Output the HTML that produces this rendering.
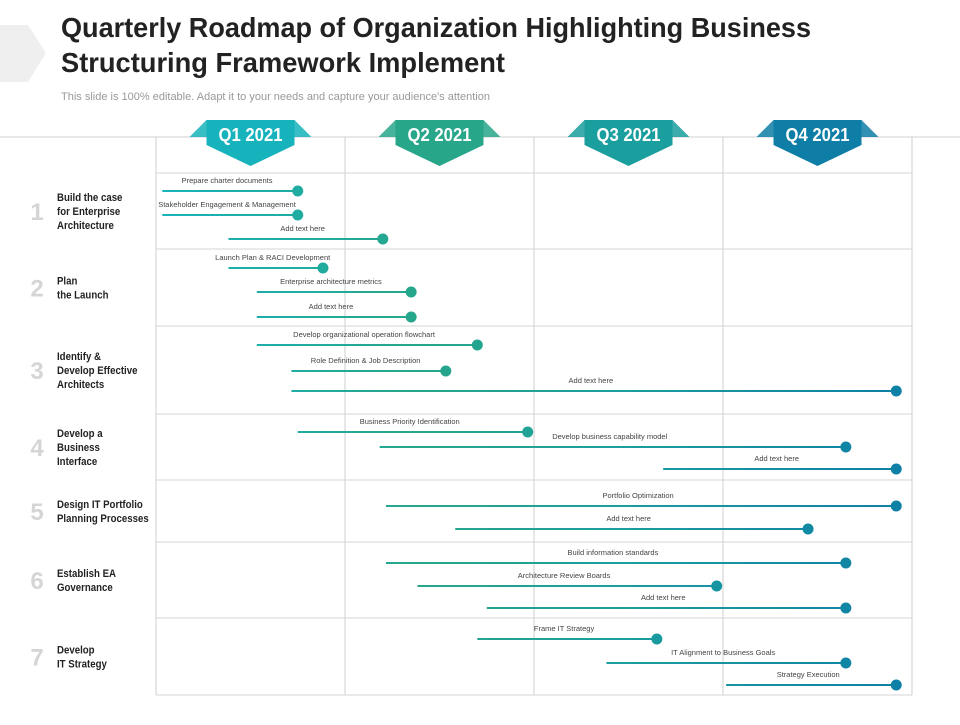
<!DOCTYPE html>
<html><head><meta charset="utf-8"><style>
body{margin:0;background:#fff;}
svg text{font-family:"Liberation Sans",sans-serif;}
</style></head><body>
<svg id="c" width="960" height="720" viewBox="0 0 960 720" xmlns="http://www.w3.org/2000/svg">
<defs>
<linearGradient id="g" gradientUnits="userSpaceOnUse" x1="156" y1="0" x2="912" y2="0">
<stop offset="0" stop-color="#17b3bc"/><stop offset="0.35" stop-color="#27a68a"/><stop offset="0.62" stop-color="#1a9e9e"/><stop offset="1" stop-color="#0e7ea6"/>
</linearGradient>
</defs>
<polygon points="0,25 28,25 46,53 28,82 0,82" fill="#efefef"/>
<text x="61" y="37" font-size="28" font-weight="bold" fill="#222" textLength="750" lengthAdjust="spacingAndGlyphs">Quarterly Roadmap of Organization Highlighting Business</text>
<text x="61" y="72" font-size="28" font-weight="bold" fill="#222" textLength="444" lengthAdjust="spacingAndGlyphs">Structuring Framework Implement</text>
<text x="61" y="100" font-size="11" fill="#999">This slide is 100% editable. Adapt it to your needs and capture your audience's attention</text>
<g id="grid"></g><g id="hdr"></g><g id="rows"></g><g id="tasks"></g>
</svg>
<script>
const quarters=["Q1 2021","Q2 2021","Q3 2021","Q4 2021"];
const quarterColors=["#17b3bc","#27a68a","#1a9e9e","#0e7ea6"];
const rowNums=["1","2","3","4","5","6","7"];
const rowLabels=[["Build the case","for Enterprise","Architecture"],["Plan","the Launch"],["Identify &","Develop Effective","Architects"],["Develop a","Business","Interface"],["Design IT Portfolio","Planning Processes"],["Establish EA","Governance"],["Develop","IT Strategy"]];
const rowBounds=[173,249,326,414,480,542,618,695];
const taskNames=["Prepare charter documents","Stakeholder  Engagement  & Management","Add text here","Launch  Plan & RACI Development","Enterprise architecture metrics","Add text here","Develop organizational  operation  flowchart","Role Definition & Job Description","Add text here","Business Priority Identification","Develop business capability model","Add text here","Portfolio Optimization","Add text here","Build information standards","Architecture Review Boards","Add text here","Frame IT Strategy","IT Alignment to Business Goals","Strategy  Execution"];
const taskStart=[0.1,0.1,1.15,1.15,1.6,1.6,1.6,2.15,2.15,2.25,3.55,8.05,3.65,4.75,3.65,4.15,5.25,5.1,7.15,9.05];
const taskEnd=[2.25,2.25,3.6,2.65,4.05,4.05,5.1,4.6,11.75,5.9,10.95,11.75,11.75,10.35,10.95,8.9,10.95,7.95,10.95,11.75];
const taskRowY=[191,215,239,268,292,317,345,371,391,432,447,469,506,529,563,586,608,639,663,685];
const NS="http://www.w3.org/2000/svg";
const X0=156,QW=189;
const xs=m=>X0+m*QW/3;
function mk(p,tag,at,txt){const e=document.createElementNS(NS,tag);for(const k in at)e.setAttribute(k,at[k]);if(txt!=null)e.textContent=txt;p.appendChild(e);return e;}
const grid=document.getElementById('grid');
let l=mk(grid,'line',{x1:0,y1:137,x2:960,y2:137,stroke:'#d0d0d0'});

for(let i=0;i<=4;i++){const v=mk(grid,'line',{x1:X0+i*QW,y1:137,x2:X0+i*QW,y2:695,stroke:'#cfcfcf'});
}
rowBounds.forEach(y=>{const h=mk(grid,'line',{x1:X0,y1:y,x2:X0+4*QW,y2:y,stroke:'#d6d6d6'});
});
const hdr=document.getElementById('hdr');
quarters.forEach((q,i)=>{const cx=X0+QW/2+i*QW;const g=mk(hdr,'g',{});

mk(g,'polygon',{points:`${cx-61},137 ${cx-44},120 ${cx+44},120 ${cx+61},137`,fill:quarterColors[i],opacity:'0.85'});
mk(g,'polygon',{points:`${cx-44},120 ${cx+44},120 ${cx+44},145 ${cx},166 ${cx-44},145`,fill:quarterColors[i]});
mk(g,'text',{x:cx,y:141,'text-anchor':'middle','font-size':'18','font-weight':'bold',fill:'#fff',textLength:'64',lengthAdjust:'spacingAndGlyphs'},q);});
const rows=document.getElementById('rows');
rowLabels.forEach((lines,i)=>{const cy=(rowBounds[i]+rowBounds[i+1])/2;const g=mk(rows,'g',{});

mk(g,'text',{x:37,y:cy+9,'text-anchor':'middle','font-size':'24','font-weight':'bold',fill:'#d5d5d5'},rowNums[i]);
const tg2=mk(g,'g',{transform:'translate(57,0) scale(0.84,1)'});
const y0=cy-(lines.length-1)*7+4;
lines.forEach((s,j)=>mk(tg2,'text',{x:0,y:y0+j*14,'font-size':'11.5','font-weight':'bold',fill:'#222'},s));});
const tg=document.getElementById('tasks');
taskNames.forEach((n,i)=>{const x1=xs(taskStart[i]),x2=xs(taskEnd[i]),y=taskRowY[i];const g=mk(tg,'g',{});

mk(g,'rect',{x:x1,y:y-1,width:x2-x1,height:2,fill:'url(#g)'});
mk(g,'circle',{cx:x2,cy:y,r:5.5,fill:'url(#g)'});
mk(g,'text',{x:(x1+x2)/2-3,y:y-8,'text-anchor':'middle','font-size':'7.5',fill:'#444'},n);});
</script>
</body></html>
